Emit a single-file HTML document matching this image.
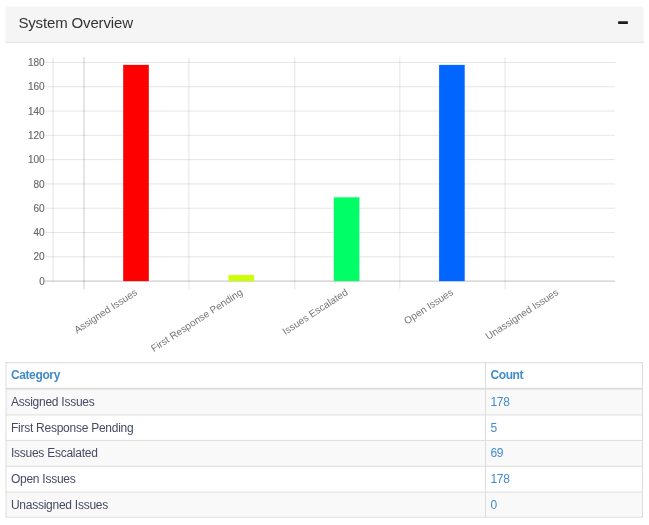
<!DOCTYPE html>
<html lang="en">
<head>
<meta charset="utf-8">
<title>System Overview</title>
<style>
html,body{margin:0;padding:0;background:#fff;}
body{width:649px;height:525px;overflow:hidden;font-family:"Liberation Sans",Arial,sans-serif;}
svg{display:block;}
svg text{font-family:"Liberation Sans",Arial,sans-serif;}
</style>
</head>
<body>
<svg width="649" height="525" viewBox="0 0 649 525">
<path d="M5.5,41.8 V9.5 Q5.5,6.5 8.5,6.5 H640.8 Q643.8,6.5 643.8,9.5 V41.8 Z" fill="#f5f5f5"/>
<rect x="5.5" y="41.8" width="638.30" height="1.0" fill="#ddd"/>
<text x="18.4" y="28.3" font-size="15" letter-spacing="-0.15" fill="#333">System Overview</text>
<rect x="618.1" y="21.3" width="9.8" height="2.8" rx="0.5" fill="#1c1c1c"/>
<rect x="45" y="256.31" width="570" height="1" fill="#000" fill-opacity="0.1"/>
<rect x="45" y="232.01" width="570" height="1" fill="#000" fill-opacity="0.1"/>
<rect x="45" y="207.72" width="570" height="1" fill="#000" fill-opacity="0.1"/>
<rect x="45" y="183.42" width="570" height="1" fill="#000" fill-opacity="0.1"/>
<rect x="45" y="159.13" width="570" height="1" fill="#000" fill-opacity="0.1"/>
<rect x="45" y="134.84" width="570" height="1" fill="#000" fill-opacity="0.1"/>
<rect x="45" y="110.54" width="570" height="1" fill="#000" fill-opacity="0.1"/>
<rect x="45" y="86.25" width="570" height="1" fill="#000" fill-opacity="0.1"/>
<rect x="45" y="61.95" width="570" height="1" fill="#000" fill-opacity="0.1"/>
<rect x="45" y="280.60" width="570" height="1" fill="#000" fill-opacity="0.25"/>
<rect x="52.3" y="57" width="1.4" height="224.10" fill="#000" fill-opacity="0.075"/>
<rect x="83.30" y="57" width="1.4" height="232.30" fill="#000" fill-opacity="0.14"/>
<rect x="188.20" y="57" width="1.4" height="232.30" fill="#000" fill-opacity="0.075"/>
<rect x="294.00" y="57" width="1.4" height="232.30" fill="#000" fill-opacity="0.075"/>
<rect x="399.10" y="57" width="1.4" height="232.30" fill="#000" fill-opacity="0.075"/>
<rect x="504.30" y="57" width="1.4" height="232.30" fill="#000" fill-opacity="0.075"/>
<rect x="123.20" y="64.88" width="25.6" height="216.22" fill="#ff0000"/>
<rect x="228.50" y="275.03" width="25.6" height="6.07" fill="#ccff00"/>
<rect x="333.80" y="197.29" width="25.6" height="83.81" fill="#00ff66"/>
<rect x="439.10" y="64.88" width="25.6" height="216.22" fill="#0066ff"/>
<g font-size="10" fill="#6a6a6a" text-anchor="end" stroke="#6a6a6a" stroke-width="0.15">
<text x="44.7" y="284.70">0</text>
<text x="44.7" y="260.41">20</text>
<text x="44.7" y="236.11">40</text>
<text x="44.7" y="211.82">60</text>
<text x="44.7" y="187.52">80</text>
<text x="44.7" y="163.23">100</text>
<text x="44.7" y="138.94">120</text>
<text x="44.7" y="114.64">140</text>
<text x="44.7" y="90.35">160</text>
<text x="44.7" y="66.05">180</text>
<text transform="translate(134.10,288.0) rotate(-33)" x="0" y="7.20" font-size="10" fill="#747474" stroke="none">Assigned Issues</text>
<text transform="translate(239.40,288.0) rotate(-33)" x="0" y="7.20" font-size="10" fill="#747474" stroke="none">First Response Pending</text>
<text transform="translate(344.70,288.0) rotate(-33)" x="0" y="7.20" font-size="10" fill="#747474" stroke="none">Issues Escalated</text>
<text transform="translate(450.00,288.0) rotate(-33)" x="0" y="7.20" font-size="10" fill="#747474" stroke="none">Open Issues</text>
<text transform="translate(555.30,288.0) rotate(-33)" x="0" y="7.20" font-size="10" fill="#747474" stroke="none">Unassigned Issues</text>
</g>
<rect x="6.0" y="389.70" width="636.50" height="25.20" fill="#f9f9f9"/>
<rect x="6.0" y="439.90" width="636.50" height="26.40" fill="#f9f9f9"/>
<rect x="6.0" y="491.60" width="636.50" height="25.60" fill="#f9f9f9"/>
<rect x="5.50" y="362.20" width="637.50" height="1" fill="#ddd"/>
<rect x="5.50" y="414.40" width="637.50" height="1" fill="#ddd"/>
<rect x="5.50" y="439.90" width="637.50" height="1" fill="#ddd"/>
<rect x="5.50" y="465.80" width="637.50" height="1" fill="#ddd"/>
<rect x="5.50" y="491.60" width="637.50" height="1" fill="#ddd"/>
<rect x="5.50" y="516.70" width="637.50" height="1" fill="#ddd"/>
<rect x="5.50" y="387.8" width="637.50" height="1.90" fill="#ddd"/>
<rect x="5.50" y="362.20" width="1" height="155.50" fill="#ddd"/>
<rect x="485.00" y="362.20" width="1" height="155.50" fill="#ddd"/>
<rect x="642.00" y="362.20" width="1" height="155.50" fill="#ddd"/>
<g font-size="12" letter-spacing="-0.25">
<g font-weight="bold" letter-spacing="-0.37" fill="#428bca"><text x="10.90" y="378.8">Category</text><text x="490.40" y="378.8">Count</text></g>
<g fill="#454b63">
<text x="10.90" y="406.0">Assigned Issues</text>
<text x="10.90" y="431.5">First Response Pending</text>
<text x="10.90" y="457.2">Issues Escalated</text>
<text x="10.90" y="482.8">Open Issues</text>
<text x="10.90" y="508.7">Unassigned Issues</text>
</g>
<g fill="#428bca">
<text x="490.40" y="406.0">178</text>
<text x="490.40" y="431.5">5</text>
<text x="490.40" y="457.2">69</text>
<text x="490.40" y="482.8">178</text>
<text x="490.40" y="508.7">0</text>
</g></g>
</svg>
</body>
</html>
